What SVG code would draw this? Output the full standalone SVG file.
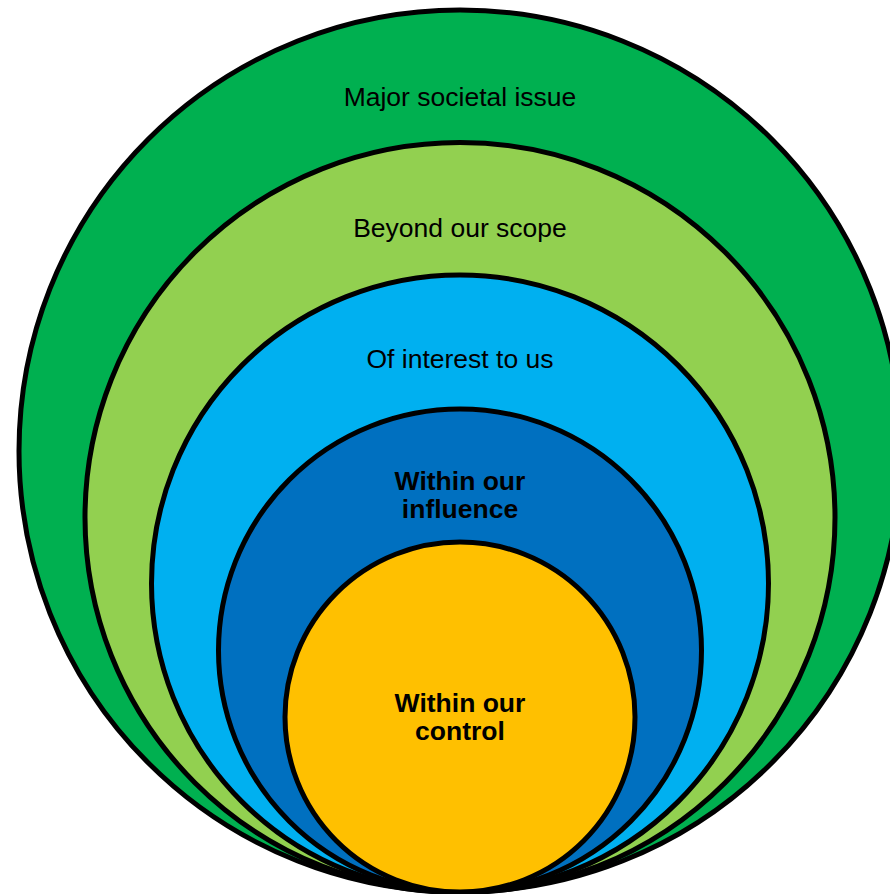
<svg xmlns="http://www.w3.org/2000/svg" width="890" height="894" viewBox="0 0 890 894">
  <style>
    .ring { stroke: #000; stroke-width: 5; }
    .lbl { font-family: "Liberation Sans", Arial, sans-serif; font-size: 26.5px; fill: #000; text-anchor: middle; }
    .b { font-weight: bold; }
  </style>
  <rect width="890" height="894" fill="#fff"/>
  <g id="major">
    <circle class="ring" cx="460" cy="451" r="441" fill="#00B050"/>
    <text class="lbl" x="460" y="106">Major societal issue</text>
  </g>
  <g id="beyond">
    <circle class="ring" cx="460" cy="517.5" r="375" fill="#92D050"/>
    <text class="lbl" x="460" y="237">Beyond our scope</text>
  </g>
  <g id="interest">
    <circle class="ring" cx="460" cy="583.5" r="308.5" fill="#00B0F0"/>
    <text class="lbl" x="460" y="368">Of interest to us</text>
  </g>
  <g id="influence">
    <circle class="ring" cx="460" cy="650.5" r="241.5" fill="#0070C0"/>
    <text class="lbl b" x="460" y="490">Within our</text>
    <text class="lbl b" x="460" y="518">influence</text>
  </g>
  <g id="control">
    <circle class="ring" cx="460" cy="717" r="175" fill="#FFC000"/>
    <text class="lbl b" x="460" y="712">Within our</text>
    <text class="lbl b" x="460" y="740">control</text>
  </g>
  <g id="connectors"></g>
</svg>
